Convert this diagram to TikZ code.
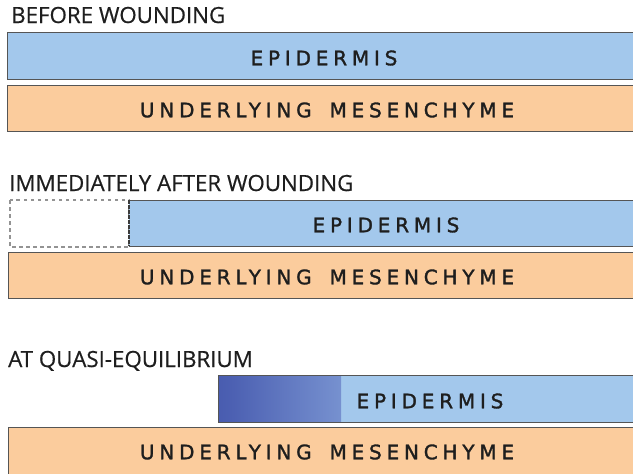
\documentclass[tikz,border=0pt]{standalone}
\usepackage{fontspec}
\newfontfamily\titlefont[FakeBold=0.5]{Open Sans}
\newfontfamily\boxfont[LetterSpace=24,WordSpace=1.6,FakeBold=1.5]{DejaVu Sans}
\definecolor{epiblue}{RGB}{163,200,236}
\definecolor{mesorange}{RGB}{251,204,157}
\definecolor{darkblue}{RGB}{58,74,165}
\definecolor{midblue}{RGB}{76,96,178}
\definecolor{fadeblue}{RGB}{142,172,224}
\definecolor{edge}{RGB}{85,85,85}
\definecolor{txt}{RGB}{30,30,30}
\tikzset{
  layer/.style={draw=edge, line width=0.9pt, inner sep=0pt, outer sep=0pt},
  epi/.style={layer, fill=epiblue},
  meso/.style={layer, fill=mesorange},
  lbl/.style={font=\boxfont\fontsize{20}{21}\selectfont, text=txt, inner sep=0pt},
  ttl/.style={font=\titlefont\fontsize{22.3}{23}\selectfont, text=txt, anchor=base west, inner sep=0pt},
  wound/.style={draw=gray!85, dash pattern=on 3.5pt off 3.5pt, line width=1.2pt, fill=white},
}
\pgfdeclarehorizontalshading{heal}{100bp}{color(0bp)=(darkblue); color(30bp)=(midblue); color(100bp)=(fadeblue)}
\begin{document}
\begin{tikzpicture}[x=1pt,y=-1pt]
\useasboundingbox[fill=white] (0,0) rectangle (633,474);
% Panel 1
\node[ttl] (t1) at (11,23) {BEFORE WOUNDING};
\draw[epi] (7,32) rectangle (640,79);
\node[lbl] (e1) at (324,58) {EPIDERMIS};
\draw[meso] (7,85) rectangle (640,131);
\node[lbl] (m1) at (327,110) {UNDERLYING MESENCHYME};
% Panel 2
\node[ttl] (t2) at (9,191) {IMMEDIATELY AFTER WOUNDING};
\draw[wound] (10,200) rectangle (129,247);
\fill[epiblue] (129,200) rectangle (640,246);
\draw[edge, line width=0.9pt] (129,200) -- (640,200) (129,246) -- (640,246);
\draw[edge!70!black, line width=1.2pt, dash pattern=on 3.5pt off 1.5pt] (129,200) -- (129,246);
\node[lbl] (e2) at (386,225) {EPIDERMIS};
\draw[meso] (8,252) rectangle (640,298);
\node[lbl] (m2) at (327,277) {UNDERLYING MESENCHYME};
% Panel 3
\node[ttl] (t3) at (8,367) {AT QUASI-EQUILIBRIUM};
\draw[epi] (218,375) rectangle (640,422);
\shade[shading=heal] (218.45,375.45) rectangle (341,421.55);
\draw[edge, line width=0.9pt] (640,375) -- (218,375) -- (218,422) -- (640,422);
\node[lbl] (e3) at (430,401) {EPIDERMIS};
\draw[meso] (8,427) rectangle (640,480);
\node[lbl] (m3) at (327,452) {UNDERLYING MESENCHYME};
\end{tikzpicture}
\end{document}
